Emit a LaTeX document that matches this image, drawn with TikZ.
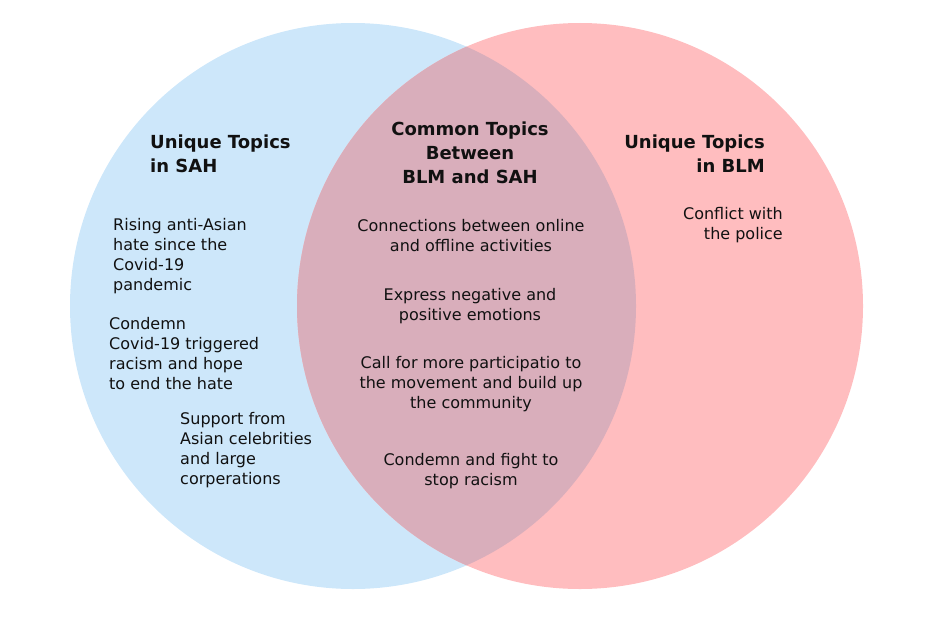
\documentclass[tikz,border=0pt]{standalone}
\usepackage{fontspec}
\setmainfont{DejaVu Sans}
\definecolor{sahblue}{RGB}{205,231,250}
\definecolor{blmpink}{RGB}{255,189,191}
\definecolor{common}{RGB}{217,174,187}
\definecolor{ink}{RGB}{17,17,17}
\begin{document}
\begin{tikzpicture}[x=1pt, y=-1pt,
  title/.style={font=\fontsize{18}{24}\selectfont\bfseries, text=ink, inner sep=0pt},
  item/.style={font=\fontsize{16}{20}\selectfont, text=ink, inner sep=0pt}]
  \useasboundingbox (0,0) rectangle (936,618);
  \coordinate (SAH) at (353,306);
  \coordinate (BLM) at (580,306);
  % the two sets and their overlap
  \fill[sahblue] (SAH) circle[radius=283pt];
  \fill[blmpink] (BLM) circle[radius=283pt];
  \begin{scope}
    \clip (SAH) circle[radius=283pt];
    \fill[common] (BLM) circle[radius=283pt];
  \end{scope}
  % headings
  \node[title, anchor=west, align=left] (sahtitle) at (150,154) {Unique Topics\\in SAH};
  \node[title, align=center] (commontitle) at (470,153) {Common Topics\\Between\\BLM and SAH};
  \node[title, anchor=east, align=right] (blmtitle) at (765,154) {Unique Topics\\in BLM};
  % topics in SAH only
  \node[item, anchor=west, align=left] (sah1) at (113,256) {Rising anti-Asian\\hate since the\\Covid-19\\pandemic};
  \node[item, anchor=west, align=left] (sah2) at (109,354) {Condemn\\Covid-19 triggered\\racism and hope\\to end the hate};
  \node[item, anchor=west, align=left] (sah3) at (180,450) {Support from\\Asian celebrities\\and large\\corperations};
  % common topics
  \node[item, align=center] (common1) at (471,236) {Connections between online\\and offline activities};
  \node[item, align=center] (common2) at (470,306) {Express negative and\\positive emotions};
  \node[item, align=center] (common3) at (471,384) {Call for more participatio to\\the movement and build up\\the community};
  \node[item, align=center] (common4) at (471,471) {Condemn and fight to\\stop racism};
  % topics in BLM only
  \node[item, anchor=east, align=right] (blm1) at (783,225) {Conflict with\\the police};
\end{tikzpicture}
\end{document}
